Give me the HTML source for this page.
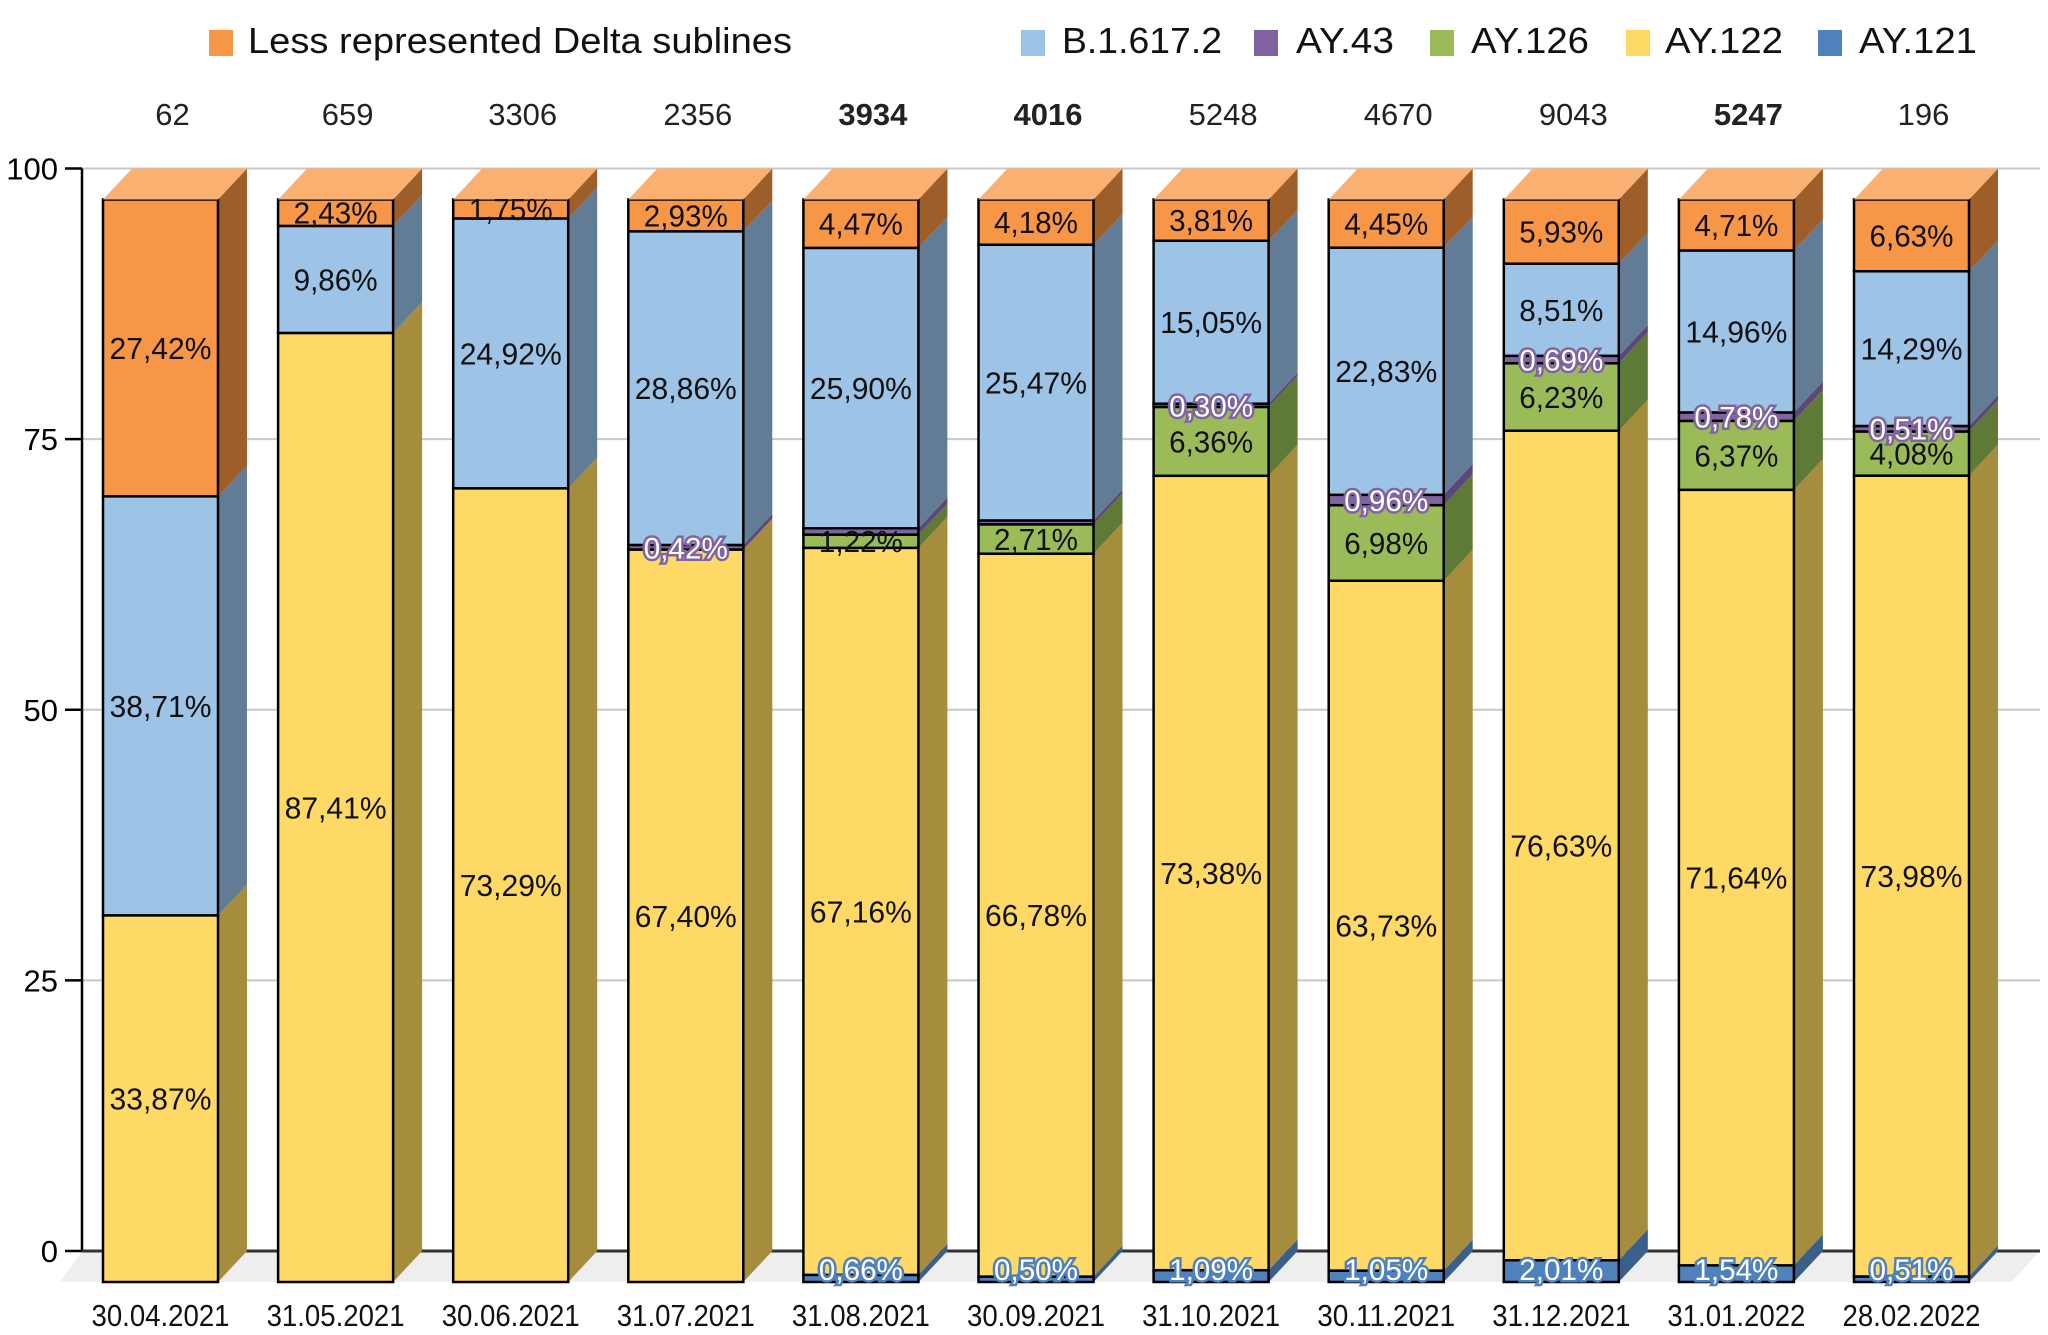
<!DOCTYPE html>
<html><head><meta charset="utf-8"><style>
html,body{margin:0;padding:0;background:#fff}
svg{display:block}
text{font-family:"Liberation Sans",sans-serif}
</style></head><body>
<svg id="c" width="2048" height="1335" viewBox="0 0 2048 1335" xmlns="http://www.w3.org/2000/svg"></svg>
<script>
const S=document.getElementById('c');let h='';
const L0=103,P=175.1,W=115,DX=29,DY=31,B100=168.5,B0=1251,U=(B0-B100)/100;
// floor
h+=`<polygon points="82,${B0} 2040,${B0} 2040,${B0} 2011,${B0+DY} 82,${B0+DY}" fill="#ededed"/>`;
h+=`<polygon points="82,${B0} 2040,${B0} 2011,${B0+DY} 60,${B0+DY}" fill="#eeeeee"/>`;
[0,25,50,75,100].forEach(v=>{const y=B0-v*U;
 if(v>0)h+=`<line x1="82" y1="${y}" x2="2040" y2="${y}" stroke="#c8c8c8" stroke-width="2"/>`;
 h+=`<line x1="65" y1="${y}" x2="82" y2="${y}" stroke="#000" stroke-width="2.5"/>`;
 h+=`<text x="58" y="${y+11}" font-size="31" text-anchor="end">${v}</text>`;});
h+=`<line x1="82" y1="${B100}" x2="82" y2="${B0}" stroke="#000" stroke-width="2.5"/>`;
h+=`<line x1="82" y1="${B0}" x2="2040" y2="${B0}" stroke="#333" stroke-width="3"/>`;
const C=[['#4F81BD','#3a5f8a'],['#FFD966','#A68C3D'],['#9BBB59','#5E7A36'],['#8064A2','#5c4878'],['#9DC3E6','#627C96'],['#F79646','#9E5E2A']];
const D=[[0,33.87,0,0,38.71,27.42],[0,87.41,0,0,9.86,2.43],[0,73.29,0,0,24.92,1.75],[0,67.40,0,0.42,28.86,2.93],[0.66,67.16,1.22,0.59,25.90,4.47],[0.50,66.78,2.71,0.36,25.47,4.18],[1.09,73.38,6.36,0.30,15.05,3.81],[1.05,63.73,6.98,0.96,22.83,4.45],[2.01,76.63,6.23,0.69,8.51,5.93],[1.54,71.64,6.37,0.78,14.96,4.71],[0.51,73.98,4.08,0.51,14.29,6.63]];
const SH=[[0,1,0,0,1,1],[0,1,0,0,1,1],[0,1,0,0,1,1],[0,1,0,1,1,1],[1,1,1,0,1,1],[1,1,1,0,1,1],[1,1,1,1,1,1],[1,1,1,1,1,1],[1,1,1,1,1,1],[1,1,1,1,1,1],[1,1,1,1,1,1]];
const N=['62','659','3306','2356','3934','4016','5248','4670','9043','5247','196'];
const BOLD=[0,0,0,0,1,1,0,0,0,1,0];
const DT=['30.04.2021','31.05.2021','30.06.2021','31.07.2021','31.08.2021','30.09.2021','31.10.2021','30.11.2021','31.12.2021','31.01.2022','28.02.2022'];
const F0=B0+DY;
let labels='';
D.forEach((d,i)=>{const x=L0+i*P;const tot=d.reduce((a,b)=>a+b,0);let acc=0;
 d.forEach((v,k)=>{if(v<=0)return;const vv=v*100/tot;const y1=F0-acc*U,y2=F0-(acc+vv)*U;acc+=vv;
  // side
  h+=`<polygon points="${x+W},${y1} ${x+W+DX},${y1-DY} ${x+W+DX},${y2-DY} ${x+W},${y2}" fill="${C[k][1]}"/>`;
  h+=`<rect x="${x}" y="${y2}" width="${W}" height="${y1-y2}" fill="${C[k][0]}" stroke="#000" stroke-width="2.5"/>`;
  if(SH[i][k]){const cy=(y1+y2)/2+11;const t=d[k].toFixed(2).replace('.',',')+'%';
   if(k==0||k==3){const sc=k==0?'#4F81BD':'#8064A2';
    labels+=`<text x="${x+W/2}" y="${k==0?F0-2:cy}" font-size="30" text-anchor="middle" fill="#fff" stroke="${sc}" stroke-width="5" paint-order="stroke" textLength="84" lengthAdjust="spacingAndGlyphs">${t}</text>`;}
   else labels+=`<text x="${x+W/2}" y="${cy}" font-size="31" text-anchor="middle" fill="#111" textLength="${t.length>5?102:84}" lengthAdjust="spacingAndGlyphs">${t}</text>`;}
 });
 // top
 const ty=F0-100*U;
 h+=`<polygon points="${x},${ty} ${x+DX},${ty-DY} ${x+W+DX},${ty-DY} ${x+W},${ty}" fill="#FAB070"/>`;
 h+=`<text x="${x+W/2+12}" y="125" font-size="31" text-anchor="middle" fill="#222" ${BOLD[i]?'font-weight="bold"':''}>${N[i]}</text>`;
 h+=`<text x="${x+W/2}" y="1326" font-size="31" text-anchor="middle" fill="#111" textLength="138" lengthAdjust="spacingAndGlyphs">${DT[i]}</text>`;
});
h+=labels;
const LG=[[209,248,'#F79646','Less represented Delta sublines',544],[1021,1062,'#9DC3E6','B.1.617.2',160],[1254,1296,'#8064A2','AY.43',98],[1430,1471,'#9BBB59','AY.126',118],[1626,1665,'#FFD966','AY.122',118],[1818,1859,'#4F81BD','AY.121',118]];
LG.forEach(l=>{h+=`<rect x="${l[0]}" y="30" width="24" height="26" fill="${l[2]}"/><text x="${l[1]}" y="53" font-size="36" fill="#111" textLength="${l[4]}" lengthAdjust="spacingAndGlyphs">${l[3]}</text>`;});
S.innerHTML=h;
</script>
</body></html>
